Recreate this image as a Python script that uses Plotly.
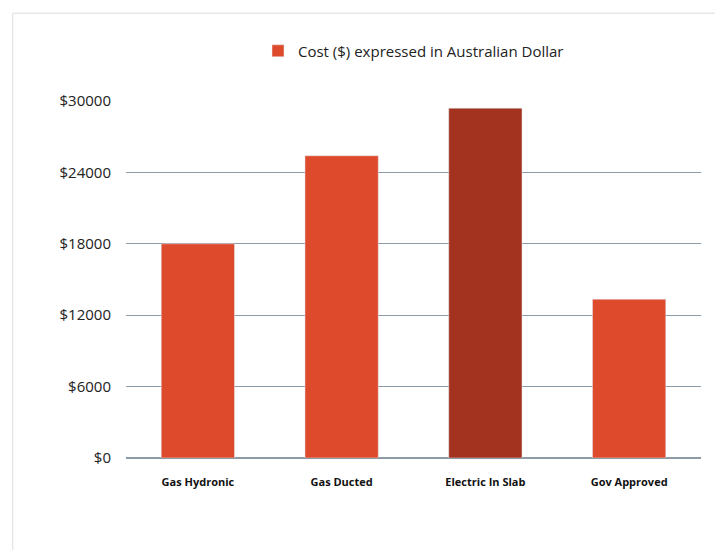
import plotly.graph_objects as go

categories = ["Gas Hydronic", "Gas Ducted", "Electric In Slab", "Gov Approved"]
costs = [18000, 25400, 29400, 13350]
bar_colors = ["#DE4B2C", "#DE4B2C", "#A3321E", "#DE4B2C"]
tick_vals = [0, 6000, 12000, 18000, 24000, 30000]
tick_text = ["$" + str(v) for v in tick_vals]

fig = go.Figure()
fig.add_trace(go.Bar(
    x=categories, y=costs, marker_color=bar_colors,
    name="Cost ($) expressed in Australian Dollar",
    showlegend=True, width=0.51,
))

fig.update_layout(
    width=723, height=550,
    paper_bgcolor="white", plot_bgcolor="white",
    margin=dict(l=118, r=30, t=93, b=100, autoexpand=False),
    font=dict(family="Open Sans", color="#222"),
    legend=dict(orientation="h", x=0.5, xanchor="center", y=1.14, yanchor="middle",
                font=dict(size=15, color="#222"), bgcolor="rgba(0,0,0,0)"),
    xaxis=dict(tickfont=dict(size=11, family="Open Sans", weight="bold", color="#111"),
               showline=False, ticks="", ticklabelstandoff=16),
    yaxis=dict(range=[0, 30000], tickvals=tick_vals, ticktext=tick_text,
               tickfont=dict(size=15, color="#222"), gridcolor="#8C9BA8",
               gridwidth=1, zeroline=True, zerolinecolor="#8C9BA8",
               ticklabelstandoff=14),
    shapes=[dict(type="rect", xref="paper", yref="paper", x0=-0.197, x1=1.043,
                 y0=-0.266, y1=1.246, line=dict(color="#DDDDDD", width=1))],
)
fig.write_html("out.html")
